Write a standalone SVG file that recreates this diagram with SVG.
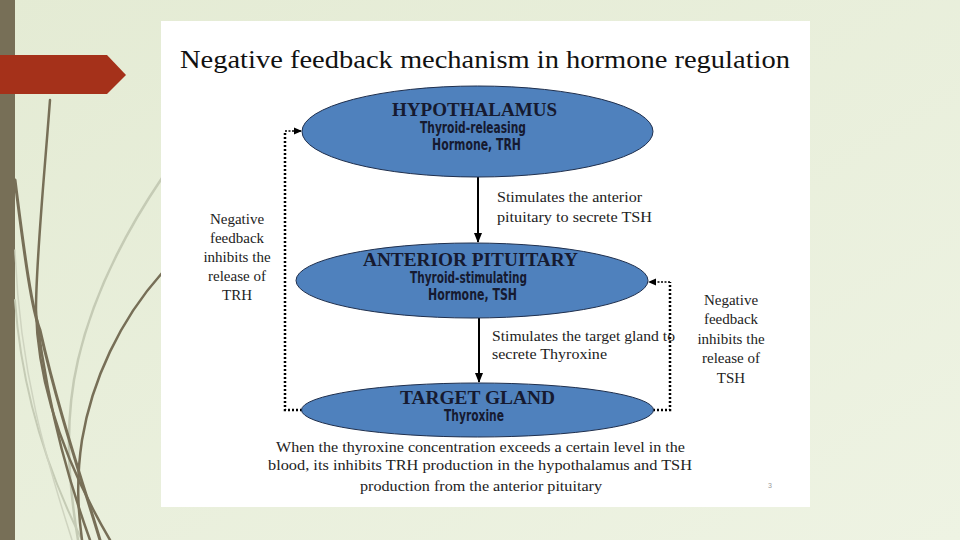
<svg xmlns="http://www.w3.org/2000/svg" width="960" height="540" viewBox="0 0 960 540">
<defs>
<linearGradient id="bg" x1="0" y1="0" x2="1" y2="1">
<stop offset="0" stop-color="#e4ebd4"/>
<stop offset="1" stop-color="#eef3e3"/>
</linearGradient>
<marker id="solid" markerWidth="10" markerHeight="10" refX="9" refY="5" orient="auto" markerUnits="userSpaceOnUse">
<path d="M0,1 L10,5 L0,9 Z" fill="#000"/>
</marker>
<marker id="dot" markerWidth="8" markerHeight="8" refX="7" refY="4" orient="auto" markerUnits="userSpaceOnUse">
<path d="M0,0.5 L8,4 L0,7.5 Z" fill="#000"/>
</marker>
<style>
.title{font-family:"Liberation Serif",serif;font-size:25px;fill:#111}
.body{font-family:"Liberation Serif",serif;font-size:15px;fill:#222}
.side{font-family:"Liberation Serif",serif;font-size:15px;fill:#222;text-anchor:middle}
.head{font-family:"Liberation Serif",serif;font-size:18px;font-weight:bold;fill:#161a30}
.sub{font-family:"DejaVu Sans Condensed","DejaVu Sans",sans-serif;font-size:15px;font-weight:bold;fill:#161a30}
.ell{fill:#4f81bd;stroke:#1f2f4d;stroke-width:1}
.dotline{fill:none;stroke:#000;stroke-width:2.5;stroke-dasharray:2 2}
.dotthin{fill:none;stroke:#000;stroke-width:1.5;stroke-dasharray:2 1.5}
.arrow{fill:none;stroke:#000;stroke-width:2}
</style>
</defs>
<rect width="960" height="540" fill="url(#bg)"/>
<rect x="0" y="0" width="15" height="540" fill="#776f57"/>
<g fill="none" stroke-linecap="round">
<path d="M162,178 C120,240 92,300 78,360 C64,420 68,480 78,540" stroke="#c5cbb5" stroke-width="2.5"/>
<path d="M15,300 C22,400 52,480 82,540" stroke="#c5cbb5" stroke-width="2"/>
<path d="M15,250 C20,380 50,470 72,540" stroke="#cfd4c0" stroke-width="1.5"/>
<path d="M50,100 C44,180 36,260 36,310 C38,400 75,480 110,540" stroke="#776f57" stroke-width="2.5"/>
<path d="M15,180 C25,260 32,310 40,330 C58,410 82,480 100,540" stroke="#776f57" stroke-width="3"/>
<path d="M37,320 C50,420 72,490 90,540" stroke="#776f57" stroke-width="2.5"/>
<path d="M162,273 C120,320 92,380 82,440 C76,480 78,510 82,540" stroke="#776f57" stroke-width="2.5"/>
</g>
<polygon points="0,55 107,55 126,75 107,94 0,94" fill="#a5311a"/>
<rect x="161" y="21" width="649" height="486" fill="#ffffff"/>
<text class="title" x="180" y="68" textLength="610" lengthAdjust="spacingAndGlyphs">Negative feedback mechanism in hormone regulation</text>

<g id="connectors">
<line class="arrow" x1="478" y1="177" x2="478" y2="242" marker-end="url(#solid)"/>
<line class="arrow" x1="479" y1="318" x2="479" y2="382" marker-end="url(#solid)"/>
<polyline class="dotline" points="302,410 285,410 285,131"/>
<line class="dotthin" x1="285" y1="131" x2="301" y2="131" marker-end="url(#dot)"/>
<polyline class="dotline" points="653,410 670,410 670,282"/>
<line class="dotthin" x1="670" y1="282" x2="649" y2="282" marker-end="url(#dot)"/>
</g>

<g id="hypothalamus">
<ellipse class="ell" cx="477.5" cy="131.5" rx="175.5" ry="45.5"/>
<text class="head" x="392" y="116" textLength="165" lengthAdjust="spacingAndGlyphs">HYPOTHALAMUS</text>
<text class="sub" x="420" y="133" textLength="106" lengthAdjust="spacingAndGlyphs">Thyroid-releasing</text>
<text class="sub" x="432" y="150" textLength="89" lengthAdjust="spacingAndGlyphs">Hormone,  TRH</text>
</g>

<g id="anterior-pituitary">
<ellipse class="ell" cx="472" cy="280.5" rx="176" ry="37.5"/>
<text class="head" x="363" y="266" textLength="215" lengthAdjust="spacingAndGlyphs">ANTERIOR PITUITARY</text>
<text class="sub" x="410" y="283" textLength="117" lengthAdjust="spacingAndGlyphs">Thyroid-stimulating</text>
<text class="sub" x="428" y="300" textLength="89" lengthAdjust="spacingAndGlyphs">Hormone, TSH</text>
</g>

<g id="target-gland">
<ellipse class="ell" cx="477.5" cy="410" rx="176" ry="27"/>
<text class="head" x="400" y="404" textLength="155" lengthAdjust="spacingAndGlyphs">TARGET GLAND</text>
<text class="sub" x="444" y="421" textLength="60" lengthAdjust="spacingAndGlyphs">Thyroxine</text>
</g>

<g id="labels">
<text class="body" x="497" y="202" textLength="145" lengthAdjust="spacingAndGlyphs">Stimulates the anterior</text>
<text class="body" x="497" y="222" textLength="155" lengthAdjust="spacingAndGlyphs">pituitary to secrete TSH</text>
<text class="body" x="492" y="341" textLength="183" lengthAdjust="spacingAndGlyphs">Stimulates the target gland to</text>
<text class="body" x="492" y="359" textLength="115" lengthAdjust="spacingAndGlyphs">secrete Thyroxine</text>
<text class="side" x="237" y="224">Negative</text>
<text class="side" x="237" y="243">feedback</text>
<text class="side" x="237" y="262">inhibits the</text>
<text class="side" x="237" y="281">release of</text>
<text class="side" x="237" y="300">TRH</text>
<text class="side" x="731" y="305">Negative</text>
<text class="side" x="731" y="324">feedback</text>
<text class="side" x="731" y="344">inhibits the</text>
<text class="side" x="731" y="363">release of</text>
<text class="side" x="731" y="383">TSH</text>
<text class="body" x="276" y="452" textLength="409" lengthAdjust="spacingAndGlyphs">When the thyroxine concentration exceeds a certain level in the</text>
<text class="body" x="268" y="470" textLength="424" lengthAdjust="spacingAndGlyphs">blood, its inhibits TRH production in the hypothalamus and TSH</text>
<text class="body" x="360" y="491" textLength="242" lengthAdjust="spacingAndGlyphs">production from the anterior pituitary</text>
<text x="768" y="488" font-family="Liberation Sans, sans-serif" font-size="7" fill="#999">3</text>
</g>
</svg>
